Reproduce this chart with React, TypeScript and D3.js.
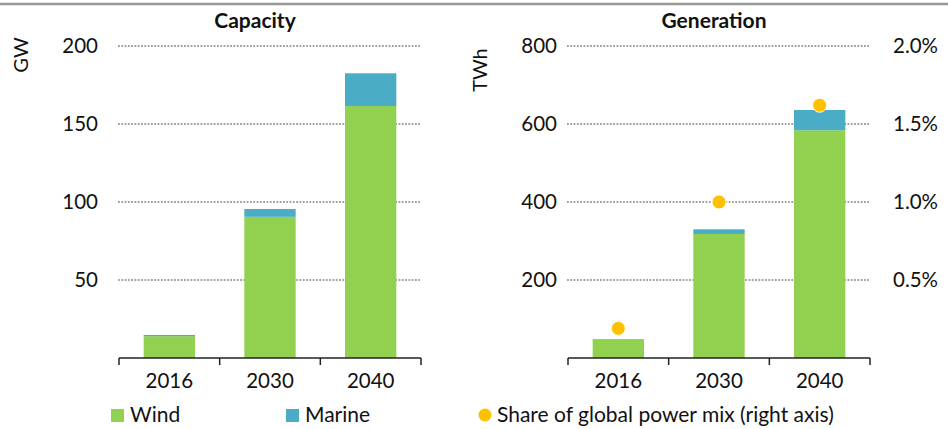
import React from "react";
import * as d3 from "d3";

const years = ["2016", "2030", "2040"];
const capacityWind = [14, 90.5, 161.5];
const capacityMarine = [0.8, 5, 21];
const generationWind = [47, 318, 584];
const generationMarine = [1.5, 12, 52];
const sharePct = [0.0019, 0.01, 0.0162];
const capTicks = [50, 100, 150, 200];
const genTicks = [200, 400, 600, 800];
const shareTicks = [0.005, 0.01, 0.015, 0.02];

const GREEN = "#92D050";
const BLUE = "#4BACC6";
const GOLD = "#FFC000";
const FONT = "Lato, 'Open Sans', sans-serif";

export default function App() {
  const W = 948, H = 429;
  const y0 = 358, yTop = 46;

  const xCap = d3.scaleBand<string>().domain(years).range([119, 421]).paddingInner(0.49).paddingOuter(0.245);
  const xGen = d3.scaleBand<string>().domain(years).range([568, 870]).paddingInner(0.49).paddingOuter(0.245);
  const yCap = d3.scaleLinear().domain([0, 200]).range([y0, yTop]);
  const yGen = d3.scaleLinear().domain([0, 800]).range([y0, yTop]);
  const yShare = d3.scaleLinear().domain([0, 0.02]).range([y0, yTop]);
  const fmtPct = d3.format(".1%");

  const dotted = { stroke: "#A0A0A0", strokeWidth: 1.8, strokeDasharray: "1.8 1.5" };

  const panel = (
    x: d3.ScaleBand<string>,
    y: d3.ScaleLinear<number, number>,
    wind: number[],
    marine: number[],
    ticks: number[],
    gx0: number,
    gx1: number
  ) => {
    const [r0, r1] = x.range();
    const step = x.step();
    const bounds = [r0, r0 + step, r0 + 2 * step, r1];
    return (
      <g>
        {ticks.map((t) => (
          <line key={"g" + t} x1={gx0} x2={gx1} y1={y(t)} y2={y(t)} {...dotted} />
        ))}
        {years.map((yr, i) => (
          <g key={yr}>
            <rect x={x(yr)} width={x.bandwidth()} y={y(wind[i])} height={y(0) - y(wind[i])} fill={GREEN} />
            <rect
              x={x(yr)}
              width={x.bandwidth()}
              y={y(wind[i] + marine[i])}
              height={y(wind[i]) - y(wind[i] + marine[i])}
              fill={BLUE}
            />
          </g>
        ))}
        <line x1={r0} x2={r1} y1={y0} y2={y0} stroke="#222" strokeWidth={1.5} />
        {bounds.map((b, i) => (
          <line key={"t" + i} x1={b} x2={b} y1={y0} y2={y0 + 7} stroke="#222" strokeWidth={1.5} />
        ))}
        {years.map((yr) => (
          <text key={"l" + yr} x={x(yr)! + x.bandwidth() / 2} y={388} textAnchor="middle" fontSize={20.5} fill="#111">
            {yr}
          </text>
        ))}
      </g>
    );
  };

  return (
    <svg width={W} height={H} style={{ display: "block", position: "absolute", left: 0, top: 0 }} fontFamily={FONT}>
      <rect x={0} y={0} width={W} height={H} fill="#fff" />
      <line x1={0} x2={W} y1={4} y2={4} stroke="#999" strokeWidth={2.5} />

      <text x={255} y={28} textAnchor="middle" fontWeight="bold" fontSize={21} fill="#111">Capacity</text>
      <text x={714} y={28} textAnchor="middle" fontWeight="bold" fontSize={21} fill="#111">Generation</text>

      <text transform="translate(28,55) rotate(-90)" textAnchor="middle" fontSize={20} fill="#111">GW</text>
      <text transform="translate(487,70) rotate(-90)" textAnchor="middle" fontSize={20} fill="#111">TWh</text>

      {capTicks.map((t) => (
        <text key={"c" + t} x={98} y={yCap(t) + 7} textAnchor="end" fontSize={20.5} fill="#111">{t}</text>
      ))}
      {genTicks.map((t) => (
        <text key={"gt" + t} x={557} y={yGen(t) + 7} textAnchor="end" fontSize={20.5} fill="#111">{t}</text>
      ))}
      {shareTicks.map((t) => (
        <text key={"s" + t} x={893} y={yShare(t) + 7} textAnchor="start" fontSize={20.5} fill="#111">{fmtPct(t)}</text>
      ))}

      {panel(xCap, yCap, capacityWind, capacityMarine, capTicks, 118, 420)}
      {panel(xGen, yGen, generationWind, generationMarine, genTicks, 567, 869)}

      {years.map((yr, i) => (
        <circle key={"d" + yr} cx={xGen(yr)! + xGen.bandwidth() / 2} cy={yShare(sharePct[i])} r={7} fill={GOLD} stroke="#fff" strokeWidth={1} />
      ))}

      <rect x={111} y={409} width={13} height={13} fill={GREEN} />
      <text x={130} y={422} fontSize={21} fill="#111">Wind</text>
      <rect x={286} y={409} width={13} height={13} fill={BLUE} />
      <text x={305} y={422} fontSize={21} fill="#111">Marine</text>
      <circle cx={485} cy={415} r={6.5} fill={GOLD} />
      <text x={497} y={422} fontSize={21} fill="#111">Share of global power mix (right axis)</text>
    </svg>
  );
}
